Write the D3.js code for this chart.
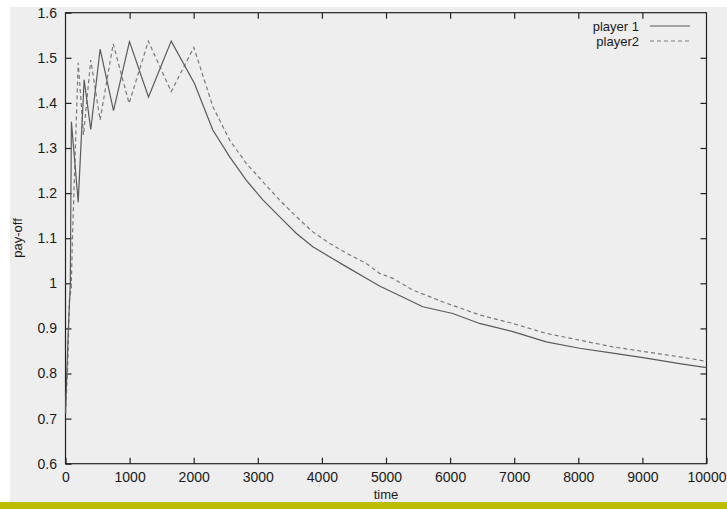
<!DOCTYPE html>
<html>
<head>
<meta charset="utf-8">
<script src="https://cdn.jsdelivr.net/npm/d3@7"></script>
<style>
  html, body { margin: 0; padding: 0; background: #ffffff; }
  svg { display: block; }
  text { font-family: "Liberation Sans", Arial, sans-serif; fill: #1a1a1a; }
</style>
</head>
<body>
<svg id="chart" width="727" height="509"></svg>
<script>
// ---- data ----
const xTicks = [0, 1000, 2000, 3000, 4000, 5000, 6000, 7000, 8000, 9000, 10000];
const yTicks = [0.6, 0.7, 0.8, 0.9, 1.0, 1.1, 1.2, 1.3, 1.4, 1.5, 1.6];
const seriesNames = ["player 1", "player2"];

const player1Time = [0, 20, 45, 75, 92, 198, 291, 394, 540, 749, 998, 1295, 1649, 2012, 2298, 2559, 2819, 3079, 3338, 3599, 3858, 4118, 4379, 4691, 4899, 5250, 5574, 6042, 6459, 6979, 7499, 8019, 8538, 9059, 9579, 10000];
const player1Pay  = [0.71, 0.80, 0.90, 1.00, 1.358, 1.18, 1.451, 1.341, 1.519, 1.383, 1.536, 1.413, 1.537, 1.443, 1.340, 1.281, 1.229, 1.185, 1.148, 1.111, 1.081, 1.059, 1.037, 1.011, 0.994, 0.970, 0.948, 0.933, 0.911, 0.893, 0.870, 0.856, 0.845, 0.834, 0.822, 0.813];

const player2Time = [0, 35, 60, 90, 108, 198, 281, 394, 540, 744, 992, 1292, 1649, 2002, 2298, 2559, 2819, 3079, 3338, 3599, 3858, 4118, 4379, 4691, 4899, 5107, 5418, 5939, 6459, 6979, 7499, 8019, 8538, 9059, 9579, 10000];
const player2Pay  = [0.71, 0.82, 0.96, 0.99, 1.10, 1.489, 1.329, 1.495, 1.362, 1.531, 1.399, 1.537, 1.425, 1.523, 1.392, 1.318, 1.266, 1.225, 1.185, 1.148, 1.114, 1.089, 1.067, 1.044, 1.022, 1.011, 0.985, 0.956, 0.930, 0.911, 0.889, 0.874, 0.859, 0.848, 0.837, 0.827];

// ---- layout ----
const svg = d3.select("#chart");
const W = 727, H = 509;
const plot = { left: 65.5, right: 706.5, top: 12.7, bottom: 463.7 };

// backgrounds
svg.append("rect").attr("x", 0).attr("y", 0).attr("width", W).attr("height", H).attr("fill", "#ffffff");
svg.append("rect").attr("x", 10).attr("y", 7).attr("width", W - 10).attr("height", 495).attr("fill", "#eeeeee");
svg.append("rect").attr("x", 0).attr("y", 502).attr("width", W).attr("height", 7).attr("fill", "#bcbc00");

const x = d3.scaleLinear().domain([0, 10000]).range([plot.left, plot.right]);
const y = d3.scaleLinear().domain([0.6, 1.6]).range([plot.bottom, plot.top]);

const tickLen = 6;
const axisColor = "#222";

// bottom axis (ticks inward)
const gB = svg.append("g").attr("transform", `translate(0,${plot.bottom})`)
  .call(d3.axisBottom(x).tickValues(xTicks).tickSize(-tickLen).tickPadding(8).tickFormat(d3.format("d")));
// left axis
const gL = svg.append("g").attr("transform", `translate(${plot.left},0)`)
  .call(d3.axisLeft(y).tickValues(yTicks).tickSize(-tickLen).tickPadding(8.5)
    .tickFormat(d => d === 1 ? "1" : d3.format(".1f")(d)));
// top mirror ticks
const gT = svg.append("g").attr("transform", `translate(0,${plot.top})`)
  .call(d3.axisTop(x).tickValues(xTicks.slice(1, -1)).tickSize(-tickLen).tickFormat(""));
// right mirror ticks
const gR = svg.append("g").attr("transform", `translate(${plot.right},0)`)
  .call(d3.axisRight(y).tickValues(yTicks.slice(1, -1)).tickSize(-tickLen).tickFormat(""));

[gB, gL, gT, gR].forEach(g => {
  g.select(".domain").remove();
  g.selectAll(".tick line").attr("stroke", axisColor).attr("stroke-width", 1.2);
  g.selectAll(".tick text").attr("font-size", 14).attr("fill", "#1a1a1a")
    .attr("font-family", "'Liberation Sans', Arial, sans-serif");
});

// frame
svg.append("rect")
  .attr("x", plot.left).attr("y", plot.top)
  .attr("width", plot.right - plot.left).attr("height", plot.bottom - plot.top)
  .attr("fill", "none").attr("stroke", axisColor).attr("stroke-width", 1.2);

// lines
const line = d3.line().x(d => x(d[0])).y(d => y(d[1]));
const p1 = player1Time.map((t, i) => [t, player1Pay[i]]);
const p2 = player2Time.map((t, i) => [t, player2Pay[i]]);

svg.append("path").datum(p2).attr("d", line)
  .attr("fill", "none").attr("stroke", "#7a7a7a").attr("stroke-width", 1.2)
  .attr("stroke-dasharray", "4,3");
svg.append("path").datum(p1).attr("d", line)
  .attr("fill", "none").attr("stroke", "#5a5a5a").attr("stroke-width", 1.2);

// axis titles
svg.append("text").attr("x", (plot.left + plot.right) / 2).attr("y", 499)
  .attr("text-anchor", "middle").attr("font-size", 13).text("time");
svg.append("text").attr("transform", "translate(22,238) rotate(-90)")
  .attr("text-anchor", "middle").attr("font-size", 13).text("pay-off");

// legend
const legend = [
  { name: seriesNames[0], y: 26, dash: null, color: "#5a5a5a" },
  { name: seriesNames[1], y: 41, dash: "4,3", color: "#7a7a7a" }
];
legend.forEach(l => {
  svg.append("text").attr("x", 639).attr("y", l.y + 4.5).attr("text-anchor", "end")
    .attr("font-size", 13).text(l.name);
  svg.append("line").attr("x1", 650).attr("x2", 690).attr("y1", l.y).attr("y2", l.y)
    .attr("stroke", l.color).attr("stroke-width", 1.2)
    .attr("stroke-dasharray", l.dash);
});
</script>
</body>
</html>
